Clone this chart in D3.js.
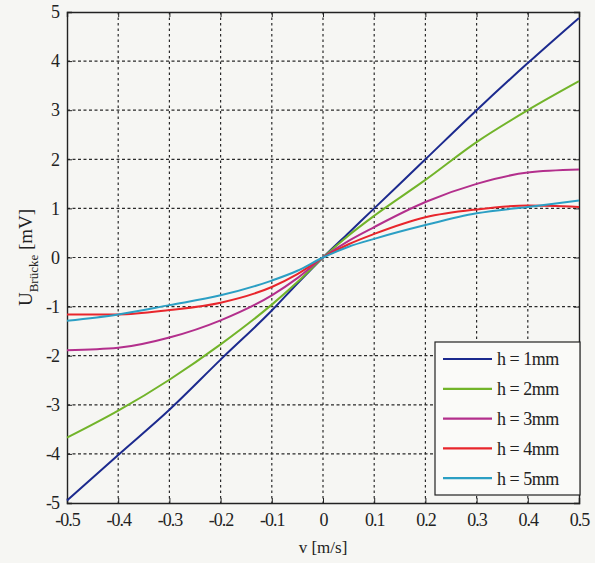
<!DOCTYPE html>
<html>
<head>
<meta charset="utf-8">
<script src="https://cdn.jsdelivr.net/npm/d3@7"></script>
<style>
  body { margin: 0; background: #f6f6f3; }
  svg text { font-family: "Liberation Serif", "Times New Roman", serif; fill: #222; }
</style>
</head>
<body>
<div id="chart"></div>
<script>
var vValues = [-0.5, -0.4, -0.3, -0.2, -0.1, -0.05, 0, 0.05, 0.1, 0.2, 0.3, 0.4, 0.5];

var h1 = [-4.95, -4.02, -3.1, -2.08, -1.08, -0.53, 0, 0.5, 1.0, 2.0, 3.0, 3.96, 4.88];
var h2 = [-3.67, -3.12, -2.49, -1.77, -0.96, -0.5, 0, 0.45, 0.85, 1.58, 2.35, 3.0, 3.59];
var h3 = [-1.89, -1.84, -1.63, -1.28, -0.77, -0.42, 0, 0.34, 0.62, 1.13, 1.5, 1.73, 1.79];
var h4 = [-1.16, -1.16, -1.07, -0.92, -0.6, -0.34, 0, 0.27, 0.48, 0.82, 0.98, 1.06, 1.03];
var h5 = [-1.29, -1.16, -0.97, -0.77, -0.47, -0.27, 0, 0.22, 0.38, 0.66, 0.9, 1.03, 1.16];

var seriesNames = ["h = 1mm", "h = 2mm", "h = 3mm", "h = 4mm", "h = 5mm"];
var seriesColors = ["#1c2a8e", "#72b42a", "#b32f8c", "#e8262c", "#2b9fc4"];

var xTicks = [-0.5, -0.4, -0.3, -0.2, -0.1, 0, 0.1, 0.2, 0.3, 0.4, 0.5];
var yTicks = [-5, -4, -3, -2, -1, 0, 1, 2, 3, 4, 5];

var svg_width = 595, svg_height = 563;
var margin = { top: 12, right: 16, bottom: 60, left: 67 };
var width = svg_width - margin.left - margin.right;
var height = svg_height - margin.top - margin.bottom;

var x = d3.scaleLinear().domain([-0.5, 0.5]).range([0, width]);
var y = d3.scaleLinear().domain([-5, 5]).range([height, 0]);

var svg = d3.select("#chart").append("svg")
  .attr("width", svg_width)
  .attr("height", svg_height);

var g = svg.append("g")
  .attr("transform", "translate(" + margin.left + "," + margin.top + ")");

// grid
g.append("g").selectAll("line")
  .data(xTicks.slice(1, -1))
  .enter().append("line")
  .attr("x1", d => x(d)).attr("x2", d => x(d))
  .attr("y1", 0).attr("y2", height)
  .attr("stroke", "#2a2a2a").attr("stroke-width", 1.2)
  .attr("stroke-dasharray", "2.5,3");

g.append("g").selectAll("line")
  .data(yTicks.slice(1, -1))
  .enter().append("line")
  .attr("y1", d => y(d)).attr("y2", d => y(d))
  .attr("x1", 0).attr("x2", width)
  .attr("stroke", "#2a2a2a").attr("stroke-width", 1.2)
  .attr("stroke-dasharray", "3,2.5");

// plain hyphen for negatives, as in the original
function fmt(d, spec) {
  return d3.format(spec)(d).replace("\u2212", "-");
}

// axes with inward ticks
g.append("g")
  .attr("transform", "translate(0," + height + ")")
  .call(d3.axisBottom(x).tickValues(xTicks).tickSize(-5).tickPadding(10)
    .tickFormat(d => d === 0 ? "0" : fmt(d, ".1f")));
g.append("g")
  .call(d3.axisLeft(y).tickValues(yTicks).tickSize(-5).tickPadding(8)
    .tickFormat(d => fmt(d, "d")));
g.append("g")
  .call(d3.axisTop(x).tickValues(xTicks).tickSize(-5).tickFormat(""));
g.append("g")
  .attr("transform", "translate(" + width + ",0)")
  .call(d3.axisRight(y).tickValues(yTicks).tickSize(-5).tickFormat(""));

g.selectAll(".tick text")
  .style("font-size", "18px")
  .style("letter-spacing", "-1px")
  .attr("fill", "#222");
g.selectAll(".domain, .tick line").attr("stroke", "#222");
g.selectAll(".domain").attr("stroke-width", 1.4);

// curves
var line = d3.line()
  .x((d, i) => x(vValues[i]))
  .y(d => y(d))
  .curve(d3.curveMonotoneX);

var allSeries = [h1, h2, h3, h4, h5];
g.selectAll(".curve")
  .data(allSeries)
  .enter().append("path")
  .attr("class", "curve")
  .attr("fill", "none")
  .attr("stroke", (d, i) => seriesColors[i])
  .attr("stroke-width", 2)
  .attr("d", line);

// axis labels
svg.append("text")
  .attr("x", margin.left + x(0))
  .attr("y", 553)
  .attr("text-anchor", "middle")
  .style("font-size", "17px")
  .text("v [m/s]");

var ylab = svg.append("text")
  .attr("transform", "translate(32," + (margin.top + y(0)) + ") rotate(-90)")
  .attr("text-anchor", "middle")
  .style("font-size", "19px");
ylab.append("tspan").text("U");
ylab.append("tspan").attr("dy", 6).style("font-size", "13px").text("Brücke");
ylab.append("tspan").attr("dy", -6).text(" [mV]");

// legend
var legend = g.append("g")
  .attr("transform", "translate(" + (435 - margin.left) + "," + (342 - margin.top) + ")");
legend.append("rect")
  .attr("width", 145).attr("height", 153)
  .attr("fill", "#fafaf8").attr("stroke", "#222").attr("stroke-width", 1.2);
var rows = legend.selectAll(".row")
  .data(seriesNames)
  .enter().append("g")
  .attr("transform", (d, i) => "translate(0," + (17 + i * 29.8) + ")");
rows.append("line")
  .attr("x1", 8).attr("x2", 57)
  .attr("stroke", (d, i) => seriesColors[i])
  .attr("stroke-width", 2.2);
rows.append("text")
  .attr("x", 62).attr("dy", "0.35em")
  .style("font-size", "18px")
  .style("letter-spacing", "-0.5px")
  .text(d => d);
</script>
</body>
</html>
